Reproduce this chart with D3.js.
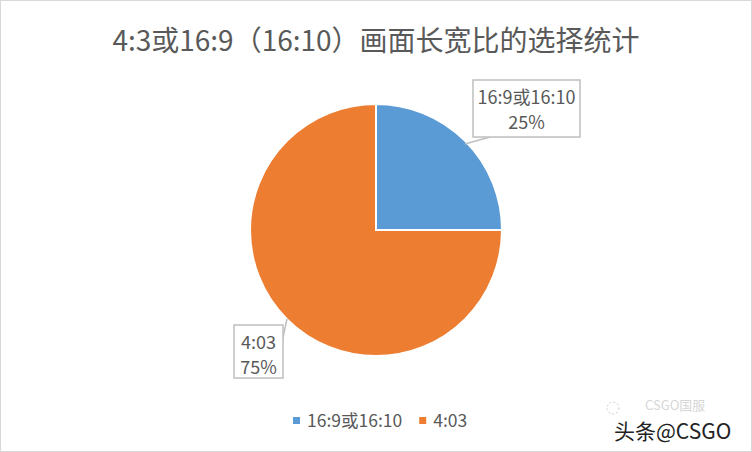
<!DOCTYPE html>
<html>
<head>
<meta charset="utf-8">
<script src="https://cdn.jsdelivr.net/npm/d3@7"></script>
<style>
  html, body { margin: 0; padding: 0; background: #fff; }
  svg text { font-family: "Noto Sans CJK SC", "Noto Sans", sans-serif; }
</style>
</head>
<body>
<div id="chart"></div>
<script>
// data
const categories = ["16:9或16:10", "4:03"];
const shares = [25, 75];
const colors = ["#5B9BD5", "#ED7D31"];
const titleText = "4:3或16:9（16:10）画面长宽比的选择统计";

const W = 752, H = 452;
const cx = 376, cy = 230, R = 126;

const svg = d3.select("#chart")
    .append("svg")
    .attr("width", W)
    .attr("height", H);

// outer frame
svg.append("rect")
    .attr("x", 0.5).attr("y", 0.5)
    .attr("width", W - 1).attr("height", H - 1)
    .attr("fill", "#fff")
    .attr("stroke", "#d9d9d9");

// title
svg.append("text")
    .attr("x", W / 2)
    .attr("y", 51)
    .attr("text-anchor", "middle")
    .style("font-size", "28px")
    .style("fill", "#595959")
    .text(titleText);

// =========================
// PIE
// =========================
const data = categories.map((c, i) => ({ cat: c, value: shares[i], color: colors[i] }));

const pie = d3.pie()
    .value(d => d.value)
    .sort(null);

const arc = d3.arc()
    .innerRadius(0)
    .outerRadius(R);

const arcs = pie(data);

const g = svg.append("g")
    .attr("transform", `translate(${cx},${cy})`);

g.selectAll("path")
    .data(arcs)
    .enter()
    .append("path")
    .attr("d", arc)
    .attr("fill", d => d.data.color)
    .attr("stroke", "#fff")
    .attr("stroke-width", 2)
    .attr("stroke-linejoin", "miter");

// =========================
// CALLOUT LABELS
// =========================
// box placement per slice (offsets relative to pie centre)
const boxes = [
    { x: 97, y: -150, w: 107, h: 57, tail: [[114, -93], [89, -86]] },
    { x: -142, y: 95, w: 49, h: 53, tail: [[-94, 112], [-89, 89]] }
];

arcs.forEach((a, i) => {
    const b = boxes[i];
    const lab = g.append("g");

    lab.append("polyline")
        .attr("points", b.tail.map(p => p.join(",")).join(" "))
        .attr("fill", "none")
        .attr("stroke", "#bfbfbf")
        .attr("stroke-width", 1.5);

    lab.append("rect")
        .attr("x", b.x).attr("y", b.y)
        .attr("width", b.w).attr("height", b.h)
        .attr("fill", "#fff")
        .attr("stroke", "#bfbfbf")
        .attr("stroke-width", 1.5);

    lab.append("text")
        .attr("x", b.x + b.w / 2)
        .attr("y", b.y + 24)
        .attr("text-anchor", "middle")
        .style("font-size", "18px")
        .style("fill", "#595959")
        .text(a.data.cat);

    lab.append("text")
        .attr("x", b.x + b.w / 2)
        .attr("y", b.y + 49)
        .attr("text-anchor", "middle")
        .style("font-size", "18px")
        .style("fill", "#595959")
        .text(a.data.value + "%");
});

// =========================
// LEGEND
// =========================
const legend = svg.append("g")
    .attr("transform", "translate(293, 421)");

let lx = 0;
data.forEach(d => {
    const item = legend.append("g")
        .attr("transform", `translate(${lx}, 0)`);
    item.append("rect")
        .attr("x", 0).attr("y", -4)
        .attr("width", 7).attr("height", 7)
        .attr("fill", d.color);
    const t = item.append("text")
        .attr("x", 14)
        .attr("y", 6)
        .style("font-size", "17.5px")
        .style("fill", "#595959")
        .text(d.cat);
    lx += 14 + t.node().getComputedTextLength() + 17;
});

// =========================
// WATERMARK
// =========================
svg.append("circle")
    .attr("cx", 613).attr("cy", 408)
    .attr("r", 6)
    .attr("fill", "none")
    .attr("stroke", "#ccc")
    .attr("stroke-dasharray", "2,2");

svg.append("text")
    .attr("x", 645).attr("y", 410)
    .style("font-size", "13px")
    .style("fill", "#d6d6d6")
    .text("CSGO国服");

svg.append("text")
    .attr("x", 614).attr("y", 439)
    .style("font-size", "21px")
    .style("fill", "#222")
    .style("text-shadow", "2px 2px 0 #fff")
    .text("头条@CSGO");
</script>
</body>
</html>
